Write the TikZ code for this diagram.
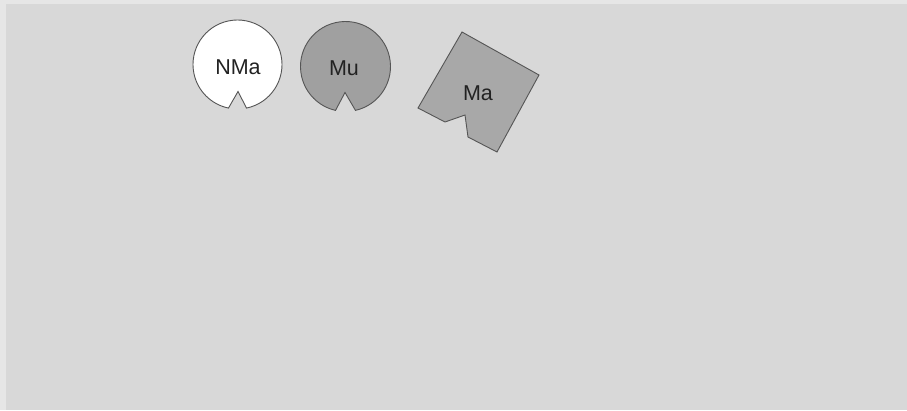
\documentclass[tikz,border=0pt]{standalone}
\usepackage{fontspec}
\setmainfont{Liberation Sans}
\definecolor{bg}{HTML}{D8D8D8}
\definecolor{bgedge}{HTML}{E6E6E6}
\definecolor{mugray}{HTML}{A0A0A0}
\definecolor{magray}{HTML}{A8A8A8}
\definecolor{edge}{HTML}{555555}
\definecolor{txt}{HTML}{222222}
\begin{document}
\begin{tikzpicture}[x=1pt,y=-1pt,
  piece/.style={draw=edge, line width=0.9pt, line join=miter},
  lbl/.style={text=txt, font=\fontsize{21.5}{21.5}\selectfont, inner sep=0pt}]
\useasboundingbox (0,0) rectangle (907,410);
\fill[bgedge] (0,0) rectangle (907,410);
\fill[bg] (6,4) rectangle (907,410);
% NMa
\coordinate (c1) at (237.5,64.5);
\coordinate (n1) at (238,91.5);
\draw[piece, fill=white] ([shift={(78.3:44.5)}]c1) arc[start angle=78.3, end angle=-258.3, radius=44.5] -- (n1) -- cycle;
\node[lbl] (nma) at (238,67.5) {NMa};
% Mu
\coordinate (c2) at (345.5,66.5);
\coordinate (n2) at (345,92.5);
\draw[piece, fill=mugray] ([shift={(77.2:45)}]c2) arc[start angle=77.2, end angle=-257.2, radius=45] -- (n2) -- cycle;
\node[lbl] (mu) at (344,68) {Mu};
% Ma
\draw[piece, fill=magray] (462,32) -- (539,75) -- (497,152) -- (468,137) -- (465,115) -- (445,122) -- (418,108) -- cycle;
\node[lbl] (ma) at (478,93.5) {Ma};
\end{tikzpicture}
\end{document}
